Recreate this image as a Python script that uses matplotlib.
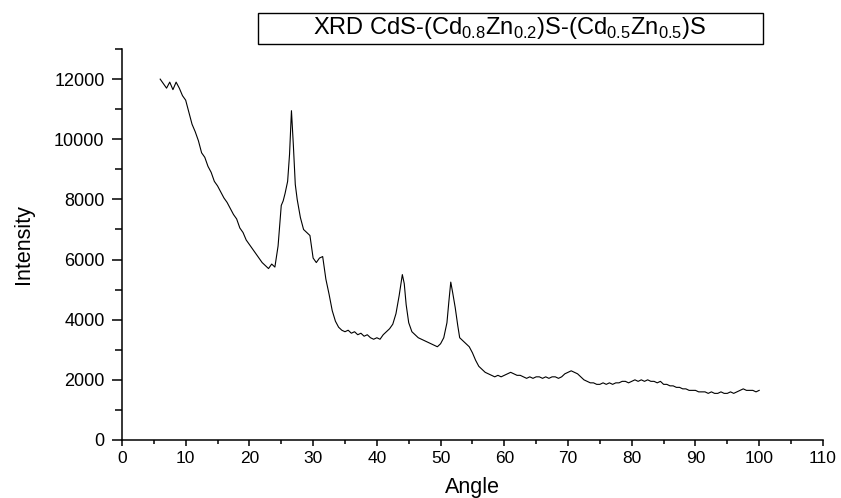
import matplotlib
matplotlib.use("Agg")
import matplotlib.pyplot as plt
from matplotlib.patches import Rectangle
from matplotlib.ticker import MultipleLocator

plt.rcParams['font.family'] = ['Liberation Sans', 'DejaVu Sans']
plt.rcParams['mathtext.fontset'] = 'custom'
plt.rcParams['mathtext.rm'] = 'Liberation Sans'

# -------------------------
# XRD pattern
# -------------------------
angle = [
    6.0, 6.5, 7.0, 7.5, 8.0, 8.5, 9.0, 9.5, 10.0, 10.5, 11.0, 11.5, 12.0, 12.5,
    13.0, 13.5, 14.0, 14.5, 15.0, 15.5, 16.0, 16.5, 17.0, 17.5, 18.0, 18.5,
    19.0, 19.5, 20.0, 20.5, 21.0, 21.5, 22.0, 22.5, 23.0, 23.5, 24.0, 24.5,
    25.0, 25.3, 25.6, 26.0, 26.3, 26.6, 26.9, 27.2, 27.5, 28.0, 28.5, 29.0,
    29.5, 30.0, 30.5, 31.0, 31.5, 32.0, 32.5, 33.0, 33.5, 34.0, 34.5, 35.0,
    35.5, 36.0, 36.5, 37.0, 37.5, 38.0, 38.5, 39.0, 39.5, 40.0, 40.5, 41.0,
    41.5, 42.0, 42.5, 43.0, 43.5, 44.0, 44.3, 44.6, 45.0, 45.5, 46.0, 46.5,
    47.0, 47.5, 48.0, 48.5, 49.0, 49.5, 50.0, 50.5, 51.0, 51.3, 51.6, 51.9,
    52.3, 52.7, 53.0, 53.5, 54.0, 54.5, 55.0, 55.5, 56.0, 56.5, 57.0, 57.5,
    58.0, 58.5, 59.0, 59.5, 60.0, 60.5, 61.0, 61.5, 62.0, 62.5, 63.0, 63.5,
    64.0, 64.5, 65.0, 65.5, 66.0, 66.5, 67.0, 67.5, 68.0, 68.5, 69.0, 69.5,
    70.0, 70.5, 71.0, 71.5, 72.0, 72.5, 73.0, 73.5, 74.0, 74.5, 75.0, 75.5,
    76.0, 76.5, 77.0, 77.5, 78.0, 78.5, 79.0, 79.5, 80.0, 80.5, 81.0, 81.5,
    82.0, 82.5, 83.0, 83.5, 84.0, 84.5, 85.0, 85.5, 86.0, 86.5, 87.0, 87.5,
    88.0, 88.5, 89.0, 89.5, 90.0, 90.5, 91.0, 91.5, 92.0, 92.5, 93.0, 93.5,
    94.0, 94.5, 95.0, 95.5, 96.0, 96.5, 97.0, 97.5, 98.0, 98.5, 99.0, 99.5,
    100.0,
]
intensity = [
    12000, 11850, 11700, 11900, 11650, 11900, 11700, 11450, 11300, 10900,
    10500, 10250, 9950, 9550, 9400, 9100, 8900, 8600, 8450, 8250, 8050, 7900,
    7700, 7500, 7350, 7050, 6900, 6650, 6500, 6350, 6200, 6050, 5900, 5800,
    5700, 5850, 5750, 6450, 7800, 7950, 8200, 8600, 9500, 10950, 9800, 8500,
    8000, 7400, 7000, 6900, 6800, 6050, 5900, 6050, 6100, 5350, 4850, 4300,
    3950, 3750, 3650, 3600, 3650, 3550, 3600, 3500, 3550, 3450, 3500, 3400,
    3350, 3400, 3350, 3500, 3600, 3700, 3850, 4200, 4800, 5500, 5200, 4500,
    3900, 3600, 3500, 3400, 3350, 3300, 3250, 3200, 3150, 3100, 3200, 3400,
    3900, 4600, 5250, 4900, 4400, 3800, 3400, 3300, 3200, 3100, 2900, 2650,
    2450, 2350, 2250, 2200, 2150, 2100, 2150, 2100, 2150, 2200, 2250, 2200,
    2150, 2150, 2100, 2050, 2100, 2050, 2100, 2100, 2050, 2100, 2050, 2100,
    2100, 2050, 2100, 2200, 2250, 2300, 2250, 2200, 2100, 2000, 1950, 1900,
    1900, 1850, 1850, 1900, 1850, 1900, 1850, 1900, 1900, 1950, 1950, 1900,
    1950, 2000, 1950, 2000, 1950, 2000, 1950, 1950, 1900, 1950, 1850, 1850,
    1800, 1800, 1750, 1750, 1700, 1700, 1650, 1650, 1650, 1600, 1600, 1600,
    1550, 1600, 1550, 1550, 1600, 1550, 1550, 1600, 1550, 1600, 1650, 1700,
    1650, 1650, 1650, 1600, 1650,
]

title = r'XRD CdS-(Cd$_\mathregular{0.8}$Zn$_\mathregular{0.2}$)S-(Cd$_\mathregular{0.5}$Zn$_\mathregular{0.5}$)S'

fig = plt.figure(figsize=(8.41, 4.98), dpi=100)
ax = fig.add_axes([0.145, 0.1165, 0.8335, 0.785])

ax.plot(angle, intensity, color='black', linewidth=0.8)

ax.set_xlim(0, 110)
ax.set_ylim(0, 13000)
ax.xaxis.set_major_locator(MultipleLocator(10))
ax.xaxis.set_minor_locator(MultipleLocator(5))
ax.yaxis.set_major_locator(MultipleLocator(2000))
ax.yaxis.set_minor_locator(MultipleLocator(1000))

for side in ['top', 'right']:
    ax.spines[side].set_visible(False)
for side in ['left', 'bottom']:
    ax.spines[side].set_linewidth(1.1)

ax.tick_params(axis='x', which='major', direction='out', length=4.5, width=1.1, labelsize=12.5, pad=3.5)
ax.tick_params(axis='x', which='minor', direction='out', length=3, width=1.1)
ax.tick_params(axis='y', which='major', direction='out', length=7.5, width=1.1, labelsize=13, pad=5)
ax.tick_params(axis='y', which='minor', direction='out', length=5, width=1.1)

ax.set_xlabel('Angle', fontsize=15.5, labelpad=7.5)
ax.set_ylabel('Intensity', fontsize=15.5)
ax.yaxis.set_label_coords(-0.125, 0.5)

# legend-like title box
fig.patches.append(Rectangle((258 / 841, 1 - 44 / 498), 505 / 841, 31 / 498,
                             transform=fig.transFigure, fill=False,
                             edgecolor='black', linewidth=1.0))
fig.text(510 / 841, 1 - 28 / 498, title, ha='center', va='center', fontsize=17)

fig.savefig('out.png', dpi=100)
